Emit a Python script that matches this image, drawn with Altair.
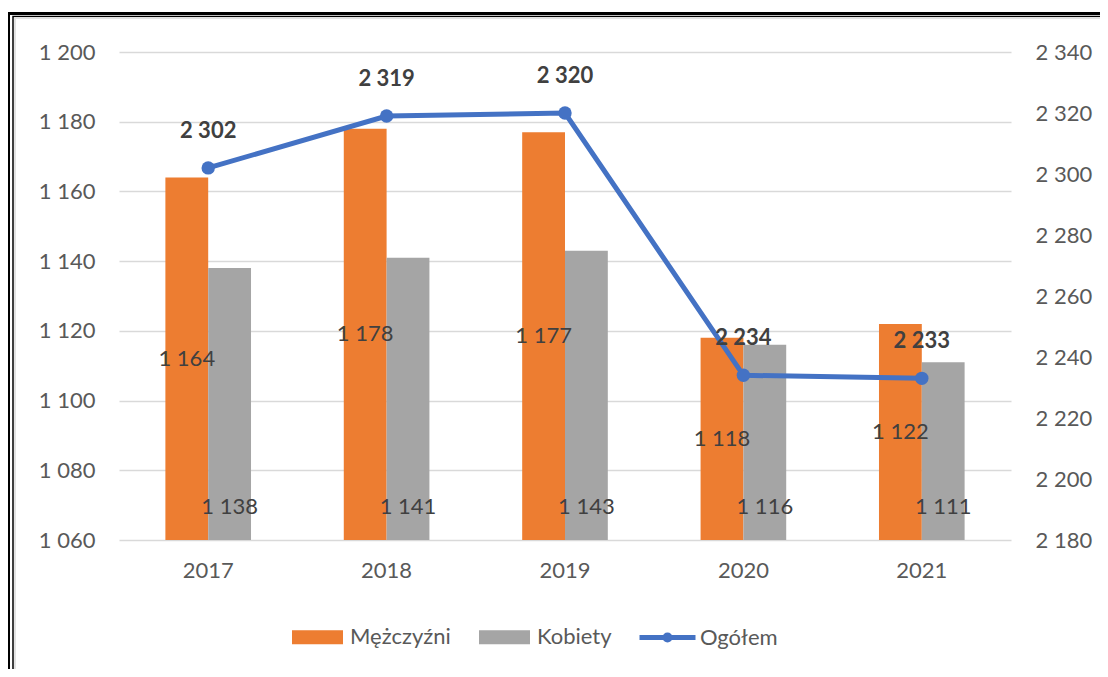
import altair as alt
import pandas as pd

years = ["2017", "2018", "2019", "2020", "2021"]
men = [1164, 1178, 1177, 1118, 1122]
women = [1138, 1141, 1143, 1116, 1111]
total = [2302, 2319, 2320, 2234, 2233]
left_ticks = [1060, 1080, 1100, 1120, 1140, 1160, 1180, 1200]
right_ticks = [2180, 2200, 2220, 2240, 2260, 2280, 2300, 2320, 2340]
series_names = ["Mężczyźni", "Kobiety"]
line_name = "Ogółem"

FONT = "Lato"
LBL = "#595959"
TXT = "#404040"

rows = []
for i, y in enumerate(years):
    rows.append({"year": y, "series": series_names[0], "value": men[i]})
    rows.append({"year": y, "series": series_names[1], "value": women[i]})
df = pd.DataFrame(rows)
dft = pd.DataFrame({"year": years, "total": total, "name": [line_name] * len(years)})

fmt = "replace(format(datum.value, ','), ',', ' ')"

xaxis = alt.Axis(title=None, labelAngle=0, domain=False, ticks=False,
                 labelPadding=20, labelFontSize=22, labelColor=LBL, labelFont=FONT)
xscale = alt.Scale(paddingInner=0.52, paddingOuter=0.26)
xoff = alt.XOffset("series:N", sort=series_names)

yscale = alt.Scale(domain=[1060, 1200], zero=False, nice=False)
yaxis = alt.Axis(title=None, values=left_ticks, domain=False, ticks=False,
                 labelPadding=24, labelFontSize=22, labelColor=LBL, labelFont=FONT,
                 labelExpr=fmt, gridColor="#D9D9D9", gridWidth=1.5)
rscale = alt.Scale(domain=[2180, 2340], zero=False, nice=False)
raxis = alt.Axis(title=None, orient="right", values=right_ticks, domain=False,
                 ticks=False, grid=False, labelPadding=24, labelFontSize=22,
                 labelColor=LBL, labelFont=FONT, labelExpr=fmt)


def X():
    return alt.X("year:N", sort=years, scale=xscale, axis=xaxis)


bars = alt.Chart(df).mark_bar().encode(
    x=X(),
    xOffset=xoff,
    y=alt.Y("value:Q", scale=yscale, axis=yaxis),
    y2=alt.datum(1060),
    color=alt.Color("series:N",
                    scale=alt.Scale(domain=series_names, range=["#ED7D31", "#A5A5A5"]),
                    legend=alt.Legend(title=None, orient="none", legendX=173, legendY=559.5,
                                      direction="horizontal", symbolType="M-1,-0.275H1V0.275H-1Z",
                                      symbolSize=2601, symbolStrokeWidth=0, labelFontSize=22,
                                      labelFont=FONT, labelColor=LBL, columnPadding=28,
                                      labelOffset=7, padding=0)),
)

bar_text = alt.Chart(df).transform_calculate(
    ypos="datum.series == 'Kobiety' ? 1069.5 : (datum.value + 1060) / 2",
    label="replace(format(datum.value, ','), ',', ' ')",
).mark_text(font=FONT, fontSize=22, color=TXT, baseline="middle", align="center").encode(
    x=X(),
    xOffset=xoff,
    y=alt.Y("ypos:Q", scale=yscale, axis=yaxis),
    text="label:N",
)

frame_df = pd.DataFrame({"k": [0]})
frame_outer = alt.Chart(frame_df).mark_rect(fillOpacity=0, stroke="black", strokeWidth=3).encode(
    x=alt.value(-110.5), x2=alt.value(3000), y=alt.value(-38.5), y2=alt.value(3000))
frame_inner = alt.Chart(frame_df).mark_rect(fillOpacity=0, stroke="black", strokeWidth=1.5).encode(
    x=alt.value(-106), x2=alt.value(3000), y=alt.value(-35.5), y2=alt.value(3000))
frame_shadow = alt.Chart(frame_df).mark_rect(fillOpacity=0, stroke="#E3E3E3", strokeWidth=2).encode(
    x=alt.value(-104), x2=alt.value(3000), y=alt.value(-34), y2=alt.value(3000))

line = alt.Chart(dft).mark_line(strokeWidth=5).encode(
    x=X(),
    y=alt.Y("total:Q", scale=rscale, axis=raxis),
    stroke=alt.Stroke("name:N", scale=alt.Scale(domain=[line_name], range=["#4472C4"]),
                      legend=alt.Legend(title=None, orient="none", legendX=518, legendY=555,
                                        direction="horizontal",
                                        symbolType="M-1,0H1M-0.09,0A0.09,0.09 0 1 1 0.09,0A0.09,0.09 0 1 1 -0.09,0",
                                        symbolSize=3136, symbolStrokeWidth=5, labelFontSize=22,
                                        labelFont=FONT, labelColor=LBL, labelOffset=2, padding=0)),
)
pts = alt.Chart(dft).mark_circle(size=180, opacity=1, color="#4472C4").encode(
    x=X(),
    y=alt.Y("total:Q", scale=rscale, axis=raxis),
)
line_text = alt.Chart(dft).transform_calculate(
    label="replace(format(datum.total, ','), ',', ' ')"
).mark_text(font=FONT, fontSize=22, fontWeight="bold", color=TXT, dy=-37, baseline="middle").encode(
    x=X(),
    y=alt.Y("total:Q", scale=rscale, axis=raxis),
    text="label:N",
)

left = alt.layer(bars, bar_text)
right = alt.layer(line, pts, line_text)

chart = alt.layer(frame_outer, frame_inner, frame_shadow, left, right).resolve_scale(
    y="independent"
).properties(
    width=892, height=488,
    padding={"left": 111, "top": 44, "right": 89, "bottom": 129},
    autosize=alt.AutoSizeParams(type="none"),
    background="white",
).configure_view(stroke=None)

chart.save("out.html", embed_options={"renderer": "svg", "actions": False})
